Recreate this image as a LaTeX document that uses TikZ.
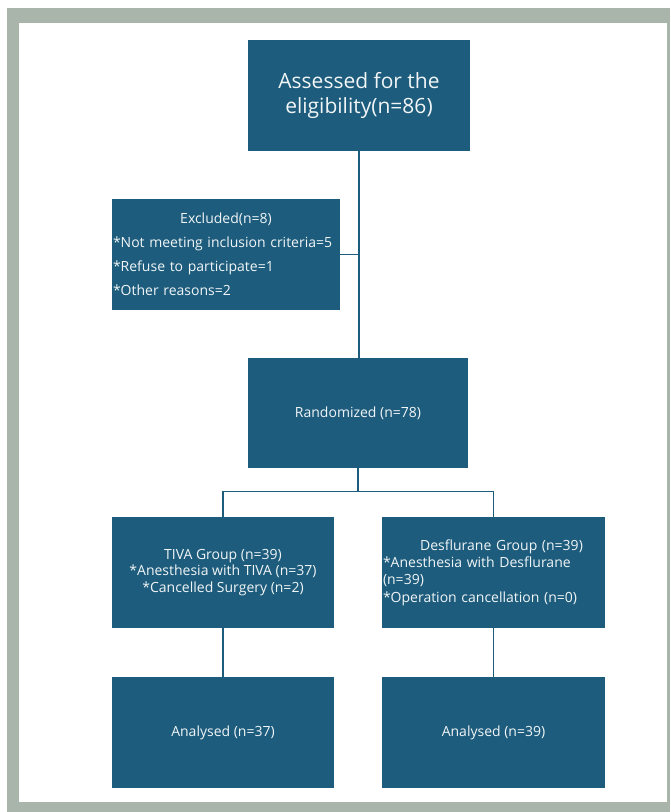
\documentclass[tikz,border=0pt]{standalone}
\usepackage{fontspec}
\setmainfont{Open Sans}
\definecolor{boxblue}{HTML}{1D5C7C}
\definecolor{framegrey}{HTML}{A9B4AA}
\tikzset{
  bx/.style={draw=none, fill=boxblue, text=white!94!boxblue, inner sep=1pt, font=\fontsize{14}{17}\selectfont},
  ln/.style={draw=boxblue, line width=1.2pt}
}
\begin{document}
\begin{tikzpicture}[x=1pt,y=-1pt]
\useasboundingbox (0,0) rectangle (670,812);
\fill[framegrey] (7,8) rectangle (670,812);
\fill[white] (19,23) rectangle (667,802);
% boxes
\node[bx, minimum width=222pt, minimum height=111pt, align=center, font=\fontsize{21}{25}\selectfont] (top) at (359,95) {Assessed for the\\eligibility(n=86)};
\node[bx, minimum width=228pt, minimum height=111pt, text width=226pt, align=left, font=\fontsize{14}{24}\selectfont] (excl) at (226,254.5)
  {\makebox[\linewidth]{Excluded(n=8)}\\{}*Not meeting inclusion criteria=5\\{}*Refuse to participate=1\\{}*Other reasons=2};
\node[bx, minimum width=220pt, minimum height=110pt] (rand) at (358,413) {Randomized (n=78)};
\node[bx, minimum width=222pt, minimum height=111pt, align=center, font=\fontsize{14}{16.5}\selectfont] (tiva) at (223,572.5)
  {TIVA Group (n=39)\\{}*Anesthesia with TIVA (n=37)\\{}*Cancelled Surgery (n=2)};
\node[bx, minimum width=223pt, minimum height=111pt, text width=221pt, align=left, font=\fontsize{14}{17.3}\selectfont] (desf) at (493.5,572.5)
  {\makebox[\linewidth]{\hspace{16pt}Desflurane Group (n=39)}\\{}*Anesthesia with Desflurane\\(n=39)\\{}*Operation cancellation (n=0)};
\node[bx, minimum width=222pt, minimum height=111pt] (an1) at (223,732.5) {Analysed (n=37)};
\node[bx, minimum width=223pt, minimum height=111pt] (an2) at (493.5,732.5) {Analysed (n=39)};
% connectors
\draw[ln] (top.south) -- (top.south |- rand.north);
\coordinate (ej) at (top.south |- excl.east);
\draw[ln] (excl.east) -- (ej);
\coordinate (br) at ([yshift=-23pt]rand.south);
\draw[ln] (rand.south) -- (br);
\draw[ln] (tiva.north) |- (br) -| (desf.north);
\draw[ln] (tiva.south) -- (an1.north);
\draw[ln] (desf.south) -- (an2.north);
\end{tikzpicture}
\end{document}
